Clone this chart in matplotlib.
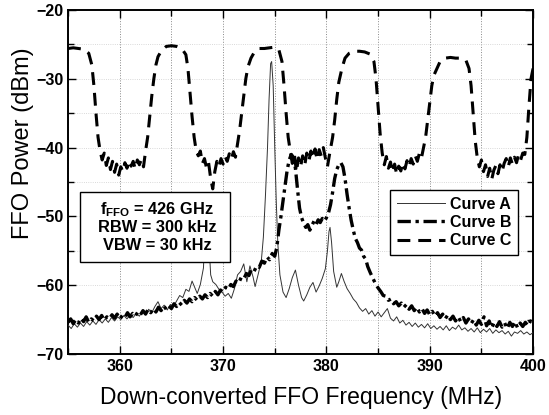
import matplotlib
matplotlib.use('Agg')
import matplotlib.pyplot as plt
from matplotlib.patches import Rectangle

plt.rcParams['font.family'] = ['Liberation Sans', 'DejaVu Sans']
plt.rcParams['mathtext.fontset'] = 'custom'
plt.rcParams['mathtext.rm'] = 'Liberation Sans:bold'

# Curve A: thin trace (MHz, dBm)
a_freq = [355.0, 355.3, 355.6, 355.9, 356.2, 356.5, 356.8, 357.1, 357.4, 357.7,
          358.0, 358.3, 358.6, 358.9, 359.2, 359.5, 359.8, 360.1, 360.4, 360.7,
          361.0, 361.3, 361.6, 361.9, 362.2, 362.5, 362.8, 363.1, 363.4, 363.7,
          364.0, 364.3, 364.6, 364.9, 365.2, 365.5, 365.8, 366.1, 366.4, 366.7,
          367.0, 367.3, 367.5, 367.8, 368.1, 368.3, 368.45, 368.6, 368.8, 369.0,
          369.3, 369.6, 369.9, 370.2, 370.5, 370.8, 371.1, 371.4, 371.7, 372.0,
          372.3, 372.6, 372.9, 373.1, 373.4, 373.7, 373.9, 374.1, 374.3, 374.45,
          374.6, 374.7, 374.85, 375.0, 375.15, 375.3, 375.5, 375.8, 376.1, 376.4,
          376.7, 377.0, 377.3, 377.6, 377.8, 378.1, 378.4, 378.7, 379.0, 379.3,
          379.6, 379.9, 380.1, 380.25, 380.35, 380.5, 380.7, 381.0, 381.2, 381.45,
          381.7, 382.0, 382.3, 382.6, 382.9, 383.2, 383.5, 383.8, 384.1, 384.4,
          384.7, 385.0, 385.3, 385.6, 385.9, 386.2, 386.5, 386.8, 387.1, 387.4,
          387.7, 388.0, 388.3, 388.6, 388.9, 389.2, 389.5, 389.8, 390.1, 390.4,
          390.7, 391.0, 391.3, 391.6, 391.9, 392.2, 392.5, 392.8, 393.1, 393.4,
          393.7, 394.0, 394.3, 394.6, 394.9, 395.2, 395.5, 395.8, 396.1, 396.4,
          396.7, 397.0, 397.3, 397.6, 397.9, 398.2, 398.5, 398.8, 399.1, 399.4,
          399.7, 400.0]
a_pow = [-65.8, -66.3, -65.6, -66.1, -65.5, -66.0, -65.3, -65.8, -65.2, -65.7,
         -65.0, -65.5, -64.9, -65.4, -64.7, -65.2, -64.6, -65.0, -64.4, -64.9,
         -64.3, -64.7, -64.1, -64.5, -63.8, -64.3, -63.5, -64.0, -63.1, -62.4,
         -63.4, -62.9, -63.6, -62.8, -63.1, -62.3, -61.5, -61.8, -60.6, -60.9,
         -59.4, -60.5, -61.2, -59.9, -57.5, -51.0, -49.5, -53.0, -58.5, -59.5,
         -59.9, -60.6, -61.0, -61.6, -61.2, -61.9, -60.5, -58.5, -58.0, -56.9,
         -59.5, -57.2, -58.8, -60.2, -58.4, -56.5, -53.0, -47.0, -40.0, -33.0,
         -27.8, -27.5, -31.0, -40.0, -48.0, -54.0, -58.5, -61.0, -61.8, -60.5,
         -58.9, -57.8, -60.0, -61.8, -62.3, -61.4, -60.3, -59.6, -61.0, -60.1,
         -59.0, -57.6, -55.0, -52.2, -51.6, -53.8, -58.0, -60.3, -59.5, -58.3,
         -59.4, -60.5, -61.2, -62.0, -62.5, -63.3, -63.8, -63.4, -64.2, -63.7,
         -64.5, -63.9, -64.6, -64.0, -63.4, -64.8, -65.2, -64.6, -65.5, -65.1,
         -65.8, -65.4, -66.0, -65.5, -66.1, -65.7, -66.2, -65.6, -66.3, -65.9,
         -66.4, -66.0, -66.5, -65.9, -66.6, -66.1, -66.4, -65.8, -66.5, -66.2,
         -66.7, -66.3, -66.8, -66.2, -66.9, -66.4, -66.8, -66.3, -67.0, -66.5,
         -66.9, -66.6, -67.1, -66.7, -67.4, -66.8, -67.0, -66.6, -67.1, -66.8,
         -67.2, -66.9]

# Curve B: dash-dot trace
b_freq = [355.0, 355.25, 355.5, 355.75, 356.0, 356.25, 356.5, 356.75, 357.0, 357.25,
          357.5, 357.75, 358.0, 358.25, 358.5, 358.75, 359.0, 359.25, 359.5, 359.75,
          360.0, 360.25, 360.5, 360.75, 361.0, 361.25, 361.5, 361.75, 362.0, 362.25,
          362.5, 362.75, 363.0, 363.25, 363.5, 363.75, 364.0, 364.25, 364.5, 364.75,
          365.0, 365.25, 365.5, 365.75, 366.0, 366.25, 366.5, 366.75, 367.0, 367.25,
          367.5, 367.75, 368.0, 368.25, 368.5, 368.75, 369.0, 369.25, 369.5, 369.75,
          370.0, 370.25, 370.5, 370.75, 371.0, 371.25, 371.5, 371.75, 372.0, 372.25,
          372.5, 372.75, 373.0, 373.25, 373.5, 373.75, 374.0, 374.25, 374.5, 374.75,
          375.0, 375.2, 375.4, 375.6, 375.8, 376.0, 376.2, 376.4, 376.6, 376.8,
          377.0, 377.2, 377.4, 377.6, 377.8, 378.0, 378.2, 378.4, 378.6, 378.8,
          379.0, 379.2, 379.4, 379.6, 379.8, 380.0, 380.2, 380.4, 380.6, 380.8,
          381.0, 381.2, 381.4, 381.6, 381.8, 382.0, 382.2, 382.4, 382.6, 382.8,
          383.0, 383.2, 383.4, 383.6, 383.8, 384.0, 384.25, 384.5, 384.75, 385.0,
          385.25, 385.5, 385.75, 386.0, 386.25, 386.5, 386.75, 387.0, 387.25, 387.5,
          387.75, 388.0, 388.25, 388.5, 388.75, 389.0, 389.25, 389.5, 389.75, 390.0,
          390.25, 390.5, 390.75, 391.0, 391.25, 391.5, 391.75, 392.0, 392.25, 392.5,
          392.75, 393.0, 393.25, 393.5, 393.75, 394.0, 394.25, 394.5, 394.75, 395.0,
          395.25, 395.5, 395.75, 396.0, 396.25, 396.5, 396.75, 397.0, 397.25, 397.5,
          397.75, 398.0, 398.25, 398.5, 398.75, 399.0, 399.25, 399.5, 399.75, 400.0]
b_pow = [-65.4, -64.9, -65.6, -65.0, -65.5, -64.8, -65.3, -64.6, -65.4, -64.9,
         -65.2, -64.5, -65.0, -64.4, -65.1, -64.6, -64.9, -64.3, -64.8, -64.2,
         -64.9, -64.4, -64.7, -64.0, -64.6, -64.1, -64.5, -63.9, -64.3, -63.7,
         -64.2, -63.5, -64.0, -63.4, -63.9, -63.2, -63.7, -63.0, -63.5, -63.0,
         -63.4, -62.7, -63.1, -62.5, -62.9, -62.2, -62.6, -62.0, -62.4, -61.8,
         -62.2, -61.6, -62.0, -61.4, -61.8, -61.2, -61.6, -60.9, -61.4, -60.7,
         -61.0, -60.3, -60.6, -59.9, -60.2, -59.4, -59.7, -58.9, -59.1, -58.3,
         -58.6, -57.7, -58.0, -57.2, -57.4, -56.5, -56.8, -55.9, -56.3, -55.4,
         -55.8, -54.5, -52.0, -50.0, -47.8, -45.5, -43.3, -41.8, -41.0, -41.4,
         -43.0, -46.0, -48.8, -50.2, -51.0, -51.6, -51.2, -52.0, -51.3, -50.7,
         -51.2, -50.5, -50.9, -50.3, -50.7, -50.2, -49.5, -48.3, -46.5, -44.5,
         -43.2, -42.5, -42.2, -42.8, -44.5, -46.8, -48.8, -50.6, -52.0, -53.2,
         -53.8, -54.6, -54.9, -55.8, -56.2, -57.3, -58.2, -59.0, -59.8, -60.4,
         -60.9, -61.5, -61.6, -62.2, -62.0, -62.7, -62.4, -63.0, -62.6, -63.2,
         -62.8, -63.5, -63.0, -63.7, -63.2, -63.9, -63.4, -64.1, -63.6, -64.3,
         -63.8, -64.5, -64.0, -64.7, -64.2, -64.9, -64.3, -65.0, -64.5, -65.2,
         -64.6, -65.3, -64.7, -65.5, -64.9, -65.6, -65.0, -65.8, -65.1, -65.7,
         -64.6, -65.9, -65.2, -66.2, -65.4, -66.0, -65.3, -66.1, -65.5, -66.3,
         -65.4, -66.0, -65.3, -66.2, -65.5, -66.0, -65.4, -65.9, -65.2, -65.6]

# Curve C: dashed trace (filter passbands)
c_freq = [355.0, 355.5, 356.0, 356.5, 357.0, 357.3, 357.5, 357.7, 357.9, 358.1,
          358.3, 358.5, 358.7, 358.9, 359.1, 359.3, 359.5, 359.7, 359.9, 360.1,
          360.3, 360.5, 360.7, 360.9, 361.1, 361.3, 361.5, 361.7, 361.9, 362.1,
          362.3, 362.5, 362.7, 362.9, 363.1, 363.3, 363.5, 363.7, 364.0, 364.5,
          365.0, 365.5, 366.0, 366.4, 366.6, 366.8, 367.0, 367.2, 367.4, 367.6,
          367.8, 368.0, 368.2, 368.4, 368.6, 368.8, 369.0, 369.2, 369.4, 369.6,
          369.8, 370.0, 370.2, 370.4, 370.6, 370.8, 371.0, 371.2, 371.4, 371.6,
          371.8, 372.0, 372.2, 372.4, 372.7, 373.0, 373.5, 374.0, 374.5, 375.0,
          375.4, 375.7, 375.9, 376.1, 376.3, 376.5, 376.7, 376.9, 377.1, 377.3,
          377.5, 377.7, 377.9, 378.1, 378.3, 378.5, 378.7, 378.9, 379.1, 379.3,
          379.5, 379.7, 379.9, 380.1, 380.3, 380.6, 380.8, 381.0, 381.2, 381.5,
          381.8, 382.2, 382.7, 383.2, 383.7, 384.2, 384.6, 384.8, 385.0, 385.2,
          385.4, 385.6, 385.8, 386.0, 386.2, 386.4, 386.6, 386.8, 387.0, 387.2,
          387.4, 387.6, 387.8, 388.0, 388.2, 388.4, 388.6, 388.8, 389.0, 389.2,
          389.4, 389.6, 389.8, 390.0, 390.2, 390.4, 390.7, 391.0, 391.5, 392.0,
          392.5, 393.0, 393.5, 393.8, 394.0, 394.2, 394.4, 394.6, 394.8, 395.0,
          395.2, 395.4, 395.6, 395.8, 396.0, 396.2, 396.4, 396.6, 396.8, 397.0,
          397.2, 397.4, 397.6, 397.8, 398.0, 398.2, 398.4, 398.6, 398.8, 399.0,
          399.2, 399.4, 399.6, 399.8, 400.0]
c_pow = [-25.6, -25.5, -25.6, -25.7, -26.3, -28.0, -31.0, -35.0, -38.5, -40.5,
         -41.8, -40.8, -42.6, -41.5, -43.2, -42.0, -43.6, -42.4, -44.0, -42.8,
         -43.5, -42.2, -43.0, -41.9, -42.7, -42.0, -43.1, -41.8, -42.5, -41.7,
         -42.8, -40.5, -38.5, -35.5, -32.5, -30.0, -28.0, -26.8, -26.0, -25.3,
         -25.2, -25.3, -25.6, -26.5, -28.5, -32.0, -35.5, -38.5, -40.5, -41.2,
         -40.5, -42.3, -41.6, -43.0, -42.2, -44.5, -46.0, -43.5, -42.0, -42.8,
         -41.6, -42.4, -41.3, -42.0, -40.9, -41.7, -40.6, -41.4, -39.5, -37.5,
         -35.0, -32.5, -30.0, -28.3, -27.0, -26.2, -25.6, -25.6, -25.5, -25.4,
         -25.8, -27.5, -31.0, -35.0, -38.5, -40.5, -42.3, -41.0, -43.5, -41.5,
         -42.8, -41.2, -42.6, -40.8, -42.0, -40.5, -41.6, -40.2, -41.8, -40.3,
         -41.2, -40.0, -41.5, -42.8, -41.0, -38.5, -36.0, -33.0, -30.5, -28.5,
         -27.0, -26.3, -26.0, -26.0, -26.1, -26.4, -27.5, -30.0, -34.0, -38.0,
         -40.8, -42.5, -41.3, -43.0, -42.1, -43.6, -42.4, -43.9, -42.7, -43.4,
         -42.2, -43.1, -41.9, -42.8, -41.6, -42.4, -41.2, -42.0, -40.8, -41.5,
         -40.0, -38.5, -36.0, -33.5, -31.0, -29.5, -28.5, -27.5, -27.0, -26.9,
         -27.0, -27.0, -27.3, -28.5, -31.0, -35.0, -39.0, -41.5, -42.8, -41.8,
         -43.5, -42.5, -44.2, -43.0, -44.6, -43.3, -42.6, -43.8, -42.5, -43.5,
         -42.3, -41.6, -42.8, -41.5, -42.4, -41.4, -42.2, -41.0, -41.8, -40.8,
         -41.0, -38.5, -34.0, -30.0, -28.5]

x_ticks = [360, 370, 380, 390, 400]
y_ticks = [-70, -60, -50, -40, -30, -20]
info_lines = ['f$_\\mathrm{FFO}$ = 426 GHz', 'RBW = 300 kHz', 'VBW = 30 kHz']

fig = plt.figure(figsize=(5.49, 4.15), dpi=100)
ax = fig.add_axes([0.124, 0.147, 0.847, 0.829])

ax.plot(a_freq, a_pow, color='#333333', lw=0.7, label='Curve A', zorder=3)
ax.plot(b_freq, b_pow, color='black', lw=2.4, dashes=(4, 1.4, 1, 1.4),
        label='Curve B', zorder=4)
ax.plot(c_freq, c_pow, color='black', lw=2.2, dashes=(4.2, 2.6),
        label='Curve C', zorder=4)

ax.set_xlim(355, 400)
ax.set_ylim(-70, -20)
ax.set_xticks(x_ticks)
ax.set_yticks(y_ticks)
ax.set_xticks(range(355, 401, 5), minor=True)
ax.set_yticks(range(-70, -19, 5), minor=True)
ax.tick_params(which='both', direction='in', top=True, right=True, width=1.0)
ax.tick_params(which='major', length=6, labelsize=11.5)
ax.tick_params(which='minor', length=4)
for lab in ax.get_xticklabels() + ax.get_yticklabels():
    lab.set_fontweight('bold')
ax.grid(True, which='both', axis='x', color='#888888', ls=':', lw=0.7)
ax.grid(True, which='both', axis='y', color='#cccccc', ls=':', lw=0.6)
for s in ax.spines.values():
    s.set_linewidth(1.4)

ax.set_xlabel('Down-converted FFO Frequency (MHz)', fontsize=16.5)
ax.xaxis.set_label_coords(0.5, -0.094)
ax.set_ylabel('FFO Power (dBm)', fontsize=17)
ax.yaxis.set_label_coords(-0.073, 0.613)

# info box
ax.add_patch(Rectangle((0.026, 0.266), 0.323, 0.204, transform=ax.transAxes,
                       facecolor='white', edgecolor='black', lw=1.0, zorder=6))
for i, txt in enumerate(info_lines):
    ax.text(0.191, 0.42 - i * 0.052, txt, transform=ax.transAxes, ha='center',
            va='center', fontsize=11.8, fontweight='bold', zorder=7)

leg = ax.legend(loc='upper right', bbox_to_anchor=(0.968, 0.478), fancybox=False,
                framealpha=1, edgecolor='black', prop={'size': 11.5, 'weight': 'bold'},
                handlelength=3.0, handletextpad=0.3, borderpad=0.45,
                labelspacing=0.2, borderaxespad=0)
leg.get_frame().set_linewidth(1.0)
leg.set_zorder(8)

fig.savefig('out.png', dpi=100)
plt.close(fig)
